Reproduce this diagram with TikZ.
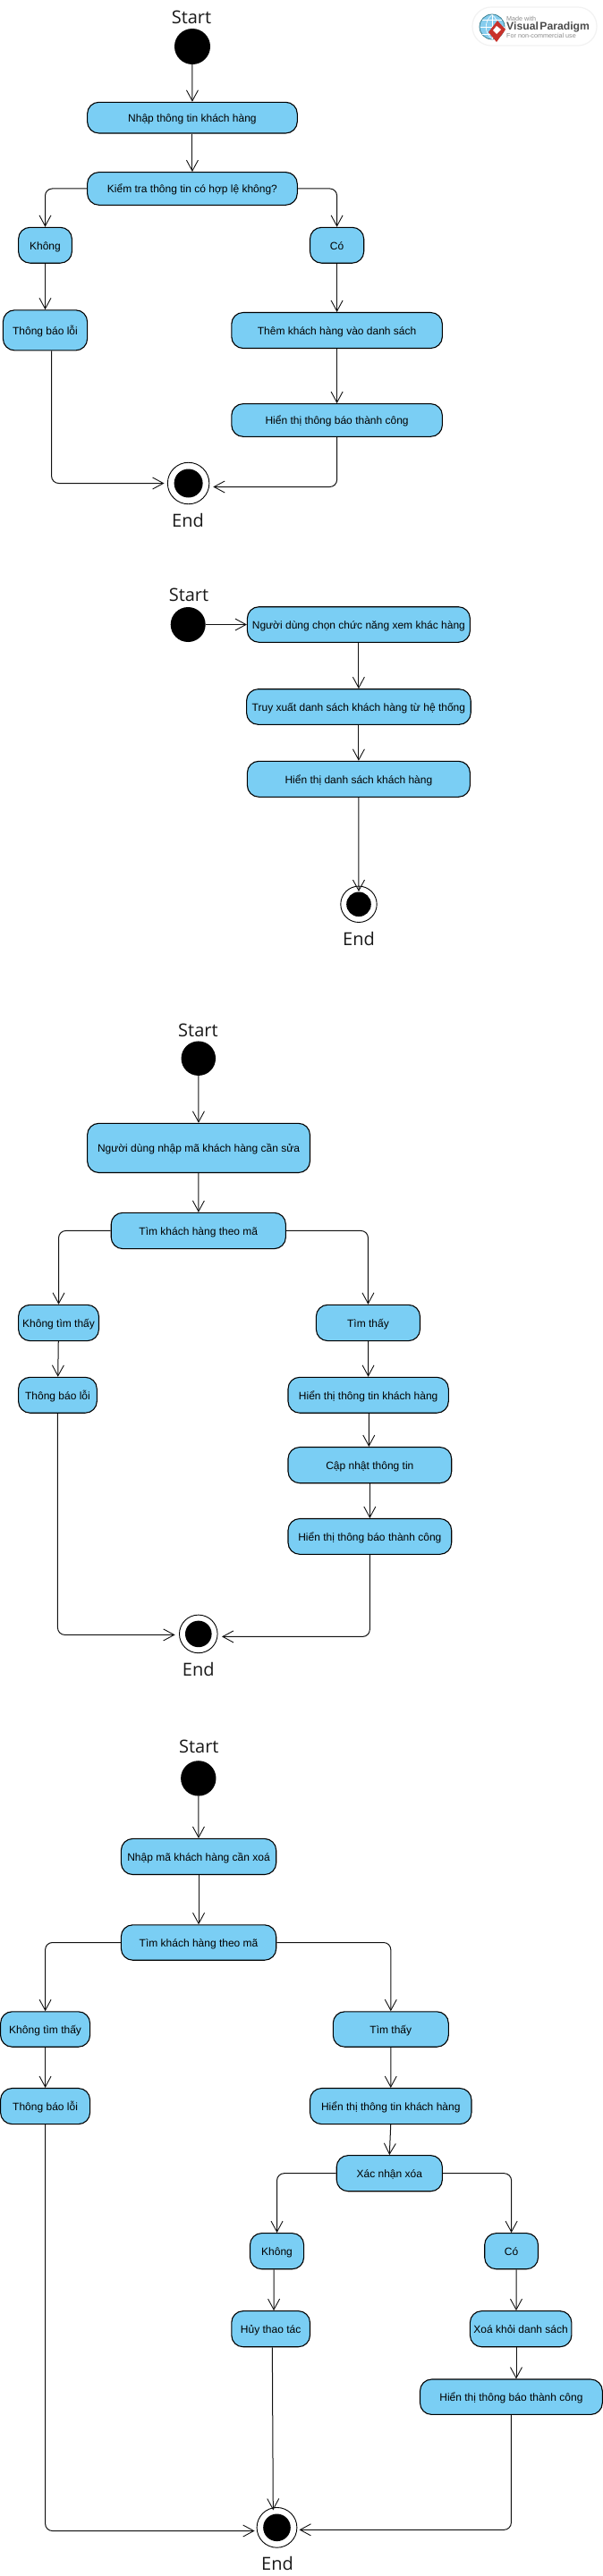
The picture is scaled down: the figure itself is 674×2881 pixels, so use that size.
\documentclass[tikz,border=0pt]{standalone}
\usepackage{fontspec}
\setmainfont{Liberation Sans}
\newfontfamily\labelfont{Open Sans}
\usetikzlibrary{arrows.meta}
\definecolor{actfill}{HTML}{7ACEF4}
\definecolor{linecol}{HTML}{111111}
\definecolor{globefill}{HTML}{86CDEE}
\definecolor{globeline}{HTML}{3A7F8F}
\definecolor{logored}{HTML}{C8322B}
\tikzset{
  act/.style={draw=black,fill=actfill,line width=1.1pt,rounded corners=13pt,inner sep=0pt,
    font=\fontsize{12}{14}\selectfont,text=black,text height=12pt,text depth=2pt},
  flow/.style={draw=linecol,line width=1pt,rounded corners=8pt,
    -{Straight Barb[length=12pt,width=13pt,line width=0.9pt]}},
  startdot/.style={circle,fill=black,draw=none,inner sep=0pt},
  endring/.style={circle,fill=white,draw=black,line width=0.9pt,inner sep=0pt},
  enddot/.style={circle,fill=black,draw=none,inner sep=0pt},
  caption/.style={font=\labelfont\fontsize{20}{24}\selectfont,text=black!90,inner sep=0pt},
  logopill/.style={draw=black!5,line width=1.2pt,fill=white,rounded corners=21pt},
  logosmall/.style={font=\fontsize{7.2}{8}\selectfont,text=black!45,inner sep=0pt,anchor=west},
  logobig/.style={font=\bfseries\fontsize{12.2}{14}\selectfont,text=black!70,inner sep=0pt,anchor=west},
}
\newcommand{\actbox}[6]{%
  \pgfmathsetmacro{\bw}{#3-#2}\pgfmathsetmacro{\bh}{#5-#4}%
  \pgfmathsetmacro{\cx}{(#2+#3)/2}\pgfmathsetmacro{\cy}{(#4+#5)/2}%
  \node[act,minimum width=\bw pt,minimum height=\bh pt] (#1) at (\cx,\cy) {#6};}
\begin{document}
\begin{tikzpicture}[x=1pt,y=-1pt]
\useasboundingbox (0,0) rectangle (674,2881);
\fill[white] (0,0) rectangle (674,2881);

% logo
\draw[logopill] (528,8) rectangle (667,51);
\draw[globeline,line width=0.8pt,fill=globefill] (550,30) circle (14);
\draw[white,line width=0.6pt] (550,16.5) -- (550,43.5) (536.5,30) -- (563.5,30) (539,22) -- (561,22) (539,38) -- (561,38);
\draw[white,line width=0.6pt] (550,16.5) .. controls (541,24) and (541,36) .. (550,43.5);
\draw[white,line width=0.6pt] (550,16.5) .. controls (559,24) and (559,36) .. (550,43.5);
\fill[logored] (556,23) -- (565,33) -- (555,47) -- (546,36) -- cycle;
\fill[white] (555,29) -- (560,33) -- (555,38) -- (551,34) -- cycle;
\node[logosmall] (lg1) at (566,20.5) {Made with};
\node[logobig] (lg2) at (566,30) {\spaceskip=1.5pt Visual Paradigm};
\node[logosmall] (lg3) at (566,40) {For non-commercial use};

% ---------- diagram 1
\node[caption] (s1t) at (214,19) {Start};
\node[startdot,minimum size=40pt] (s1) at (215,52) {};
\actbox{a1}{97.6}{332.3}{114.3}{149}{Nhập thông tin khách hàng}
\actbox{a2}{97.6}{332.3}{192.6}{229.3}{Kiểm tra thông tin có hợp lệ không?}
\actbox{a3}{20.6}{80.4}{254.3}{294.2}{Không}
\actbox{a4}{346.5}{406.7}{254.3}{294.2}{Có}
\actbox{a5}{3.4}{97.6}{346.8}{391.9}{Thông báo lỗi}
\actbox{a6}{258.8}{494.4}{349.5}{389.5}{Thêm khách hàng vào danh sách}
\actbox{a7}{258.8}{494.4}{451.6}{488.3}{Hiển thị thông báo thành công}
\node[endring,minimum size=46.5pt] (e1o) at (210.6,540.5) {};
\node[enddot,minimum size=32pt] (e1i) at (210.6,540.5) {};
\node[caption] (e1t) at (210,582) {End};
\coordinate (e1l) at (183.5,540.5);
\coordinate (e1r) at (238.3,544.5);
\draw[flow] (s1) -- (a1);
\draw[flow] (a1) -- (a2);
\draw[flow] (a2.west) -| (a3.north);
\draw[flow] (a2.east) -| (a4.north);
\draw[flow] (a3) -- (a5);
\draw[flow] (a4) -- (a6);
\draw[flow] (a6) -- (a7);
\draw[flow] ([xshift=7.1pt]a5.south) |- (e1l);
\draw[flow] (a7.south) |- (e1r);

% ---------- diagram 2
\node[caption] (s2t) at (211,665) {Start};
\node[startdot,minimum size=39pt] (s2) at (210.2,698.5) {};
\actbox{b1}{276.4}{525.4}{678.7}{718.3}{Người dùng chọn chức năng xem khác hàng}
\actbox{b2}{275.6}{526.2}{770.7}{810.3}{Truy xuất danh sách khách hàng từ hệ thống}
\actbox{b3}{276.4}{525.4}{851.3}{891.3}{Hiển thị danh sách khách hàng}
\node[endring,minimum size=40.4pt] (e2o) at (401,1011.3) {};
\node[enddot,minimum size=27.6pt] (e2i) at (401,1011.3) {};
\node[caption] (e2t) at (401,1050) {End};
\coordinate (e2n) at (401,997);
\draw[flow] (s2) -- (b1);
\draw[flow] (b1) -- (b2);
\draw[flow] (b2) -- (b3);
\draw[flow] (b3) -- (e2n);

% ---------- diagram 3
\node[caption] (s3t) at (221.4,1152) {Start};
\node[startdot,minimum size=38.5pt] (s3) at (221.8,1183.7) {};
\actbox{c1}{97.6}{346.5}{1256.3}{1311.5}{Người dùng nhập mã khách hàng cần sửa}
\actbox{c2}{124.2}{319.4}{1356.3}{1396.6}{Tìm khách hàng theo mã}
\actbox{c3}{20.6}{110.5}{1459.3}{1499.6}{Không tìm thấy}
\actbox{c4}{353.4}{469.5}{1459.3}{1499.6}{Tìm thấy}
\actbox{c5}{20.6}{108.3}{1540.3}{1580.2}{Thông báo lỗi}
\actbox{c6}{322}{501.3}{1540.3}{1580.2}{Hiển thị thông tin khách hàng}
\actbox{c7}{322}{504.7}{1618.5}{1658.7}{Cập nhật thông tin}
\actbox{c8}{322}{504.7}{1698.5}{1738.3}{Hiển thị thông báo thành công}
\node[endring,minimum size=42.6pt] (e3o) at (221.8,1827.4) {};
\node[enddot,minimum size=29.6pt] (e3i) at (221.8,1827.4) {};
\node[caption] (e3t) at (221.8,1867) {End};
\coordinate (e3l) at (195.6,1828.4);
\coordinate (e3r) at (248,1830.4);
\draw[flow] (s3) -- (c1);
\draw[flow] (c1) -- (c2);
\draw[flow] (c2.west) -| (c3.north);
\draw[flow] (c2.east) -| (c4.north);
\draw[flow] (c3) -- (c5);
\draw[flow] (c4) -- (c6);
\draw[flow] ([xshift=0.6pt]c6.south) -- ([xshift=-1pt]c7.north);
\draw[flow] (c7) -- (c8);
\draw[flow] (c5.south) |- (e3l);
\draw[flow] (c8.south) |- (e3r);

% ---------- diagram 4
\node[caption] (s4t) at (222.3,1953) {Start};
\node[startdot,minimum size=39.4pt] (s4) at (221.8,1988.9) {};
\actbox{d1}{135.4}{308.7}{2056.4}{2096.5}{Nhập mã khách hàng cần xoá}
\actbox{d2}{135.4}{308.7}{2152.8}{2192.2}{Tìm khách hàng theo mã}
\actbox{d3}{0.6}{100.6}{2249.8}{2289.2}{Không tìm thấy}
\actbox{d4}{372.3}{501.3}{2249.8}{2289.2}{Tìm thấy}
\actbox{d5}{0.6}{100.6}{2335.5}{2375.6}{Thông báo lỗi}
\actbox{d6}{346.5}{527}{2335.5}{2375.6}{Hiển thị thông tin khách hàng}
\actbox{d7}{376.2}{494.4}{2410.6}{2450.7}{Xác nhận xóa}
\actbox{d8}{279.5}{339.6}{2497.6}{2537.7}{Không}
\actbox{d9}{541.7}{601.5}{2497.6}{2537.7}{Có}
\actbox{d10}{258.8}{346.5}{2584.6}{2624.7}{Hủy thao tác}
\actbox{d11}{525.4}{638.9}{2584.6}{2624.7}{Xoá khỏi danh sách}
\actbox{d12}{469.5}{673.3}{2661}{2700.4}{Hiển thị thông báo thành công}
\node[endring,minimum size=44.8pt] (e4o) at (309.5,2826.8) {};
\node[enddot,minimum size=30.6pt] (e4i) at (309.5,2826.8) {};
\node[caption] (e4t) at (310,2866.8) {End};
\coordinate (e4l) at (284.6,2830.5);
\coordinate (e4r) at (334.5,2829.3);
\coordinate (e4n) at (305.3,2807.4);
\draw[flow] (s4) -- (d1);
\draw[flow] (d1) -- (d2);
\draw[flow] (d2.west) -| (d3.north);
\draw[flow] (d2.east) -| (d4.north);
\draw[flow] (d3) -- (d5);
\draw[flow] (d4) -- (d6);
\draw[flow] (d6.south) -- (d7.north);
\draw[flow] (d7.west) -| (d8.north);
\draw[flow] (d7.east) -| (d9.north);
\draw[flow] ([xshift=-3.4pt]d8.south) -- ([xshift=3.4pt]d10.north);
\draw[flow] ([xshift=5.4pt]d9.south) -- ([xshift=-5.15pt]d11.north);
\draw[flow] ([xshift=-5.15pt]d11.south) -- ([xshift=5.6pt]d12.north);
\draw[flow] ([xshift=1.7pt]d10.south) -- (e4n);
\draw[flow] (d5.south) |- (e4l);
\draw[flow] (d12.south) |- (e4r);
\end{tikzpicture}
\end{document}
